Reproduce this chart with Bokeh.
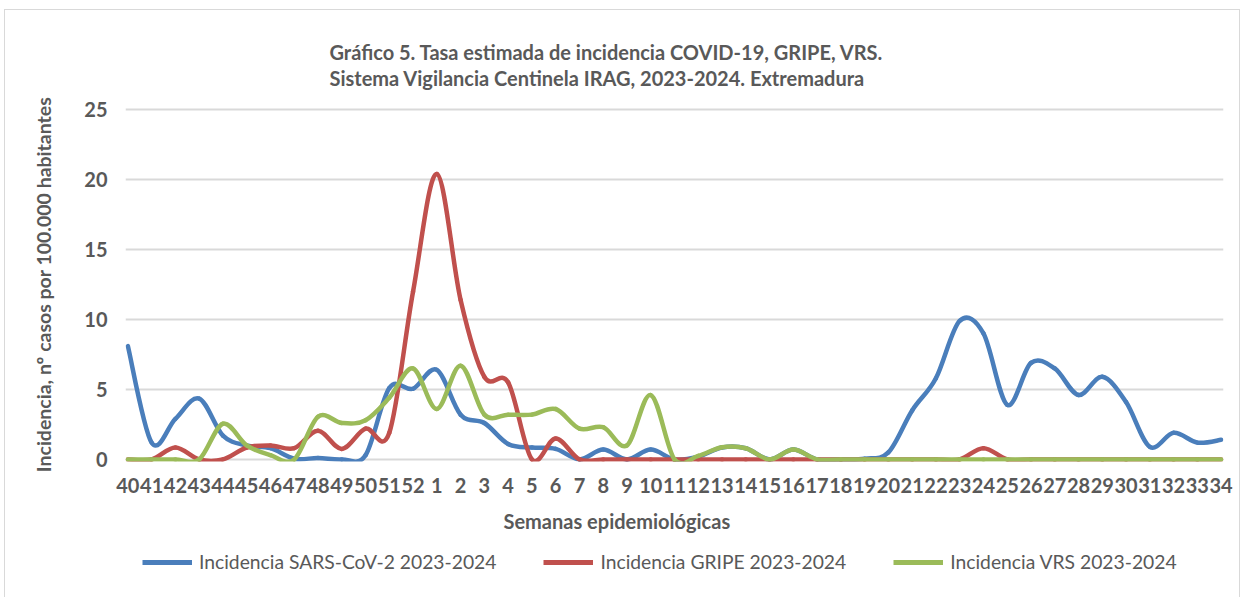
from bokeh.plotting import figure
from bokeh.layouts import column
from bokeh.models import FixedTicker, Legend, LegendItem, Title, Range1d, ColumnDataSource
from bokeh.embed import file_html
from bokeh.resources import INLINE

weeks = [str(w) for w in range(40, 53)] + [str(w) for w in range(1, 35)]

sars = [8.1, 1.2, 2.9, 4.35, 1.7, 1.0, 0.8, 0.05, 0.1, 0.0, 0.3, 5.1, 5.05,
        6.4, 3.2, 2.6, 1.1, 0.85, 0.75, 0.0, 0.7, 0.0, 0.7, 0.0, 0.2, 0.85, 0.8,
        0.0, 0.7, 0.0, 0.0, 0.05, 0.5, 3.5, 5.8, 9.9, 9.0, 3.9, 6.9, 6.5, 4.6,
        5.9, 4.1, 0.9, 1.9, 1.2, 1.4]

gripe = [0.0, 0.0, 0.85, 0.0, 0.0, 0.85, 1.0, 0.8, 2.05, 0.75, 2.2, 1.9, 12.0,
         20.4, 11.4, 5.9, 5.5, 0.0, 1.5, 0.0, 0.0, 0.0, 0.0, 0.0, 0.0, 0.0, 0.0,
         0.0, 0.0, 0.0, 0.0, 0.0, 0.0, 0.0, 0.0, 0.0, 0.8, 0.0, 0.0, 0.0, 0.0,
         0.0, 0.0, 0.0, 0.0, 0.0, 0.0]

vrs = [0.0, 0.0, 0.0, 0.0, 2.55, 1.0, 0.3, 0.0, 3.05, 2.6, 2.8, 4.4, 6.5,
       3.6, 6.7, 3.2, 3.2, 3.2, 3.6, 2.2, 2.3, 1.0, 4.6, 0.0, 0.25, 0.87, 0.8,
       0.0, 0.7, 0.0, 0.0, 0.0, 0.0, 0.0, 0.0, 0.0, 0.0, 0.0, 0.0, 0.0, 0.0,
       0.0, 0.0, 0.0, 0.0, 0.0, 0.0]

series_names = ["Incidencia SARS-CoV-2 2023-2024", "Incidencia GRIPE 2023-2024",
                "Incidencia VRS 2023-2024"]
colors = ["#4a7ebb", "#c0504d", "#9bbb59"]

title_text = ("Gráfico 5. Tasa estimada de incidencia COVID-19, GRIPE, VRS.\n"
              "Sistema Vigilancia Centinela IRAG, 2023-2024. Extremadura")
xlabel = "Semanas epidemiológicas"
ylabel = "Incidencia, nº casos por 100.000 habitantes"

TXT = "#595959"
FONT = "Lato"

idx = list(range(len(weeks)))
all_series = [sars, gripe, vrs]


def smooth_segments(vals):
    """Cubic Bezier control points (Excel-style smoothed line) through the data points."""
    n = len(vals)
    d = dict(x0=[], y0=[], x1=[], y1=[], cx0=[], cy0=[], cx1=[], cy1=[])
    for i in range(n - 1):
        pm = max(i - 1, 0)
        pp = min(i + 2, n - 1)
        d["x0"].append(idx[i]); d["y0"].append(vals[i])
        d["x1"].append(idx[i + 1]); d["y1"].append(vals[i + 1])
        d["cx0"].append(idx[i] + (idx[i + 1] - idx[pm]) / 6.0)
        d["cy0"].append(vals[i] + (vals[i + 1] - vals[pm]) / 6.0)
        d["cx1"].append(idx[i + 1] - (idx[pp] - idx[i]) / 6.0)
        d["cy1"].append(vals[i + 1] - (vals[pp] - vals[i]) / 6.0)
    return ColumnDataSource(d)


W = 1234
p = figure(width=W, height=535, output_backend="svg", toolbar_location=None,
           x_range=Range1d(-0.1, 46.1), y_range=Range1d(-0.15, 25.15),
           min_border_left=120, min_border_right=16, min_border_top=97,
           min_border_bottom=84)

p.outline_line_color = None
p.background_fill_color = "white"
p.border_fill_color = "white"

p.xgrid.grid_line_color = None
p.ygrid.grid_line_color = "#d9d9d9"
p.ygrid.grid_line_width = 2

p.yaxis.ticker = FixedTicker(ticks=[0, 5, 10, 15, 20, 25])
p.xaxis.ticker = FixedTicker(ticks=idx)
p.xaxis.major_label_overrides = {i: w for i, w in enumerate(weeks)}

for ax in (p.xaxis[0], p.yaxis[0]):
    ax.axis_line_color = None
    ax.major_tick_line_color = None
    ax.minor_tick_line_color = None
    ax.major_label_text_font = FONT
    ax.major_label_text_font_style = "bold"
    ax.major_label_text_color = TXT
    ax.major_label_text_font_size = "20px"

p.xaxis.major_label_standoff = 10
p.yaxis.major_label_standoff = 12

p.yaxis.axis_label = ylabel
p.yaxis.axis_label_text_font = FONT
p.yaxis.axis_label_text_font_style = "bold"
p.yaxis.axis_label_text_font_size = "19.5px"
p.yaxis.axis_label_text_color = TXT
p.yaxis.axis_label_standoff = 26

for vals, col in zip(all_series, colors):
    src = smooth_segments(vals)
    p.bezier(x0="x0", y0="y0", x1="x1", y1="y1", cx0="cx0", cy0="cy0",
             cx1="cx1", cy1="cy1", source=src, line_color=col, line_width=4.5,
             line_cap="round")

tt = Title(text=title_text, align="left", offset=204, text_font=FONT,
           text_font_style="bold", text_font_size="20px", text_color=TXT,
           text_line_height=1.09, standoff=34)
p.add_layout(tt, "above")

tx = Title(text=xlabel, align="left", offset=378, text_font=FONT,
           text_font_style="bold", text_font_size="20px", text_color=TXT, standoff=22)
p.add_layout(tx, "below")

# legend strip (its own lines lie outside its visible range; only the legend shows)
pl = figure(width=W, height=52, output_backend="svg", toolbar_location=None,
            x_range=Range1d(0, 1), y_range=Range1d(-100, -99),
            min_border_left=0, min_border_right=0, min_border_top=0, min_border_bottom=0)
pl.axis.visible = False
pl.grid.grid_line_color = None
pl.outline_line_color = None
pl.background_fill_color = "white"
pl.border_fill_color = "white"
lines = []
for vals, col in zip(all_series, colors):
    lines.append(pl.line(x=idx, y=vals, line_color=col, line_width=5))

legend = Legend(items=[LegendItem(label=n, renderers=[r]) for n, r in zip(series_names, lines)],
                orientation="horizontal", location=(17, 24), glyph_width=50,
                glyph_height=18, label_standoff=7, spacing=47, padding=5, margin=0,
                border_line_color=None, background_fill_alpha=0,
                label_text_font=FONT, label_text_font_size="19.3px",
                label_text_color=TXT)
pl.add_layout(legend, "center")

layout = column(p, pl, spacing=0,
                styles={"border": "1px solid #d9d9d9", "border-bottom": "none",
                        "margin-left": "4px", "margin-top": "9px"})
open("out.html", "w").write(file_html(layout, INLINE))
